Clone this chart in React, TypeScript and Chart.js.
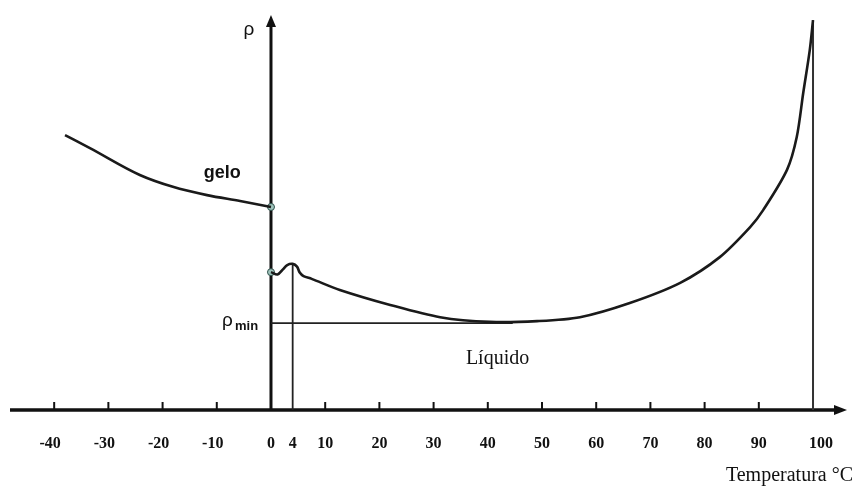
import React, { useEffect, useRef } from "react";
import { Chart, registerables } from "chart.js";

Chart.register(...registerables);

// x: temperature (°C), y: density (arbitrary units, 0 = temperature axis)
const iceTemps = [-38.0, -33.4, -24.2, -18.1, -11.8, -5.7, 0];
const iceDensity = [69.6, 66.3, 59.5, 56.5, 54.4, 52.9, 51.4];

const liquidTemps = [0, 1.2, 2.2, 3.0, 4.0, 4.8, 5.3, 6.0, 7.5, 12.7, 22.0, 31.2, 40.4, 49.1, 57.0, 66.2, 75.5, 82.8, 88.4, 90.8, 95.2, 97.0, 98.2, 99.4, 100];
const liquidDensity = [34.9, 34.3, 35.6, 36.7, 37.0, 36.3, 34.8, 33.9, 33.2, 30.4, 26.6, 23.5, 22.3, 22.5, 23.5, 27.1, 32.2, 38.7, 46.3, 50.6, 60.8, 69.1, 80.3, 91.1, 98.7];

const rhoMin = 22.0;
const rhoMinEndTemp = 44.6;
const maxDensityTemp = 4;
const boilingTemp = 100;

const tickValues = [-40, -30, -20, -10, 0, 4, 10, 20, 30, 40, 50, 60, 70, 80, 90, 100];
const tickLabels = ["-40", "-30", "-20", "-10", "0", "4", "10", "20", "30", "40", "50", "60", "70", "80", "90", "100"];
const smallTickValues = [-40, -30, -20, -10, 10, 20, 30, 40, 50, 60, 70, 80, 90];

const xMin = -48.15;
const xMax = 106.27;
const yMin = 0;
const yMax = 100;

const toPts = (xs: number[], ys: number[]) => xs.map((x, i) => ({ x, y: ys[i] }));

export default function App() {
  const ref = useRef<HTMLCanvasElement | null>(null);

  useEffect(() => {
    document.body.style.margin = "0";
    const canvas = ref.current;
    if (!canvas) return;

    const axesPlugin = {
      id: "axesPlugin",
      beforeDatasetsDraw(chart: any) {
        const { ctx, scales } = chart;
        const xs = scales.x;
        const ys = scales.y;
        const x0 = xs.getPixelForValue(0);
        const yAxis = ys.getPixelForValue(0);
        const left = xs.getPixelForValue(xMin);
        const right = xs.getPixelForValue(xMax);
        const top = ys.getPixelForValue(yMax);
        ctx.save();
        ctx.strokeStyle = "#111";
        ctx.fillStyle = "#111";
        // x axis
        ctx.lineWidth = 3.5;
        ctx.beginPath();
        ctx.moveTo(left, yAxis);
        ctx.lineTo(right - 8, yAxis);
        ctx.stroke();
        ctx.beginPath();
        ctx.moveTo(right, yAxis);
        ctx.lineTo(right - 13, yAxis - 5);
        ctx.lineTo(right - 13, yAxis + 5);
        ctx.closePath();
        ctx.fill();
        // y axis
        ctx.lineWidth = 3;
        ctx.beginPath();
        ctx.moveTo(x0, yAxis);
        ctx.lineTo(x0, top + 8);
        ctx.stroke();
        ctx.beginPath();
        ctx.moveTo(x0, top);
        ctx.lineTo(x0 - 5, top + 12);
        ctx.lineTo(x0 + 5, top + 12);
        ctx.closePath();
        ctx.fill();
        // small ticks
        ctx.lineWidth = 2;
        smallTickValues.forEach((v) => {
          const px = xs.getPixelForValue(v);
          ctx.beginPath();
          ctx.moveTo(px, yAxis);
          ctx.lineTo(px, yAxis - 8);
          ctx.stroke();
        });
        ctx.restore();
      },
      afterDraw(chart: any) {
        const { ctx, scales } = chart;
        const xs = scales.x;
        const ys = scales.y;
        const x0 = xs.getPixelForValue(0);
        const yAxis = ys.getPixelForValue(0);
        ctx.save();
        ctx.fillStyle = "#111";
        ctx.textAlign = "center";
        ctx.textBaseline = "middle";
        ctx.font = "bold 16px 'Liberation Serif', serif";
        tickValues.forEach((v, i) => {
          const px = xs.getPixelForValue(v) + (v === 100 ? 8 : v < 0 ? -4 : 0);
          ctx.fillText(tickLabels[i], px, yAxis + 34);
        });
        ctx.textAlign = "right";
        ctx.font = "20px 'Liberation Serif', serif";
        ctx.fillText("Temperatura °C", 853, yAxis + 66);

        ctx.textAlign = "center";
        ctx.font = "20px 'Liberation Serif', serif";
        ctx.fillText("Líquido", xs.getPixelForValue(41.8), ys.getPixelForValue(13));

        ctx.font = "bold 18px 'Liberation Sans', sans-serif";
        ctx.fillText("gelo", xs.getPixelForValue(-9), ys.getPixelForValue(60));
        ctx.font = "19px 'Liberation Sans', sans-serif";
        ctx.fillText("ρ", x0 - 22, ys.getPixelForValue(96.3));

        // rho min
        ctx.textAlign = "left";
        ctx.font = "19px 'Liberation Sans', sans-serif";
        const ry = ys.getPixelForValue(rhoMin);
        ctx.fillText("ρ", x0 - 49, ry - 2);
        ctx.font = "bold 13px 'Liberation Sans', sans-serif";
        ctx.fillText("min", x0 - 36, ry + 3);
        ctx.restore();
      },
    };

    const chart = new Chart(canvas, {
      type: "scatter",
      data: {
        datasets: [
          {
            data: toPts(iceTemps, iceDensity),
            showLine: true,
            borderColor: "#1a1a1a",
            borderWidth: 2.6,
            pointRadius: 0,
            cubicInterpolationMode: "monotone",
          },
          {
            data: toPts(liquidTemps, liquidDensity),
            showLine: true,
            borderColor: "#1a1a1a",
            borderWidth: 2.6,
            pointRadius: 0,
            tension: 0.3,
          },
          {
            data: [
              { x: 0, y: rhoMin },
              { x: rhoMinEndTemp, y: rhoMin },
            ],
            showLine: true,
            borderColor: "#222",
            borderWidth: 1.6,
            pointRadius: 0,
          },
          {
            data: [
              { x: maxDensityTemp, y: 0 },
              { x: maxDensityTemp, y: liquidDensity[liquidTemps.indexOf(maxDensityTemp)] },
            ],
            showLine: true,
            borderColor: "#222",
            borderWidth: 1.8,
            pointRadius: 0,
          },
          {
            data: [
              { x: boilingTemp, y: 0 },
              { x: boilingTemp, y: liquidDensity[liquidDensity.length - 1] },
            ],
            showLine: true,
            borderColor: "#333",
            borderWidth: 2,
            pointRadius: 0,
          },
          {
            data: [
              { x: 0, y: iceDensity[iceDensity.length - 1] },
              { x: 0, y: liquidDensity[0] },
            ],
            showLine: false,
            pointRadius: 3.5,
            pointBackgroundColor: "#9fc4bc",
            pointBorderColor: "#2f4f4a",
            pointBorderWidth: 1,
          },
        ],
      },
      options: {
        animation: false,
        responsive: false,
        maintainAspectRatio: false,
        layout: { padding: { left: 10, right: 9, top: 15, bottom: 77 } },
        plugins: { legend: { display: false }, tooltip: { enabled: false }, title: { display: false } },
        scales: {
          x: { type: "linear", min: xMin, max: xMax, display: false },
          y: { type: "linear", min: yMin, max: yMax, display: false },
        },
      },
      plugins: [axesPlugin],
    } as any);

    return () => chart.destroy();
  }, []);

  return (
    <div style={{ position: "fixed", left: 0, top: 0, width: 856, height: 487, background: "#fff" }}>
      <canvas ref={ref} width={856} height={487} style={{ display: "block", width: 856, height: 487 }} />
    </div>
  );
}
